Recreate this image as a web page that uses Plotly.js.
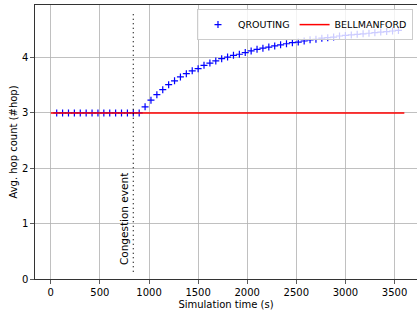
<!DOCTYPE html>
<html>
<head>
<meta charset="utf-8">
<script src="https://cdn.plot.ly/plotly-3.0.1.min.js"></script>
<style>html,body{margin:0;padding:0;background:#fff;}#chart{width:417px;height:311px;}</style>
</head>
<body>
<div id="chart"></div>
<script>
// QROUTING samples (simulation time in s, avg hop count)
const qTime = [60,120,180,240,300,360,420,480,540,600,660,720,780,840,900,
  960,1020,1080,1140,1200,1260,1320,1380,1440,1500,1560,1620,1680,1740,1800,
  1860,1920,1980,2040,2100,2160,2220,2280,2340,2400,2460,2520,2580,2640,2700,
  2760,2820,2880,2940,3000,3060,3120,3180,3240,3300,3360,3420,3480,3540];
const qHops = [3,3,3,3,3,3,3,3,3,3,3,3,3,3,3,
  3.11,3.23,3.33,3.42,3.51,3.58,3.65,3.71,3.76,3.80,3.86,3.90,3.94,3.98,4.01,
  4.04,4.06,4.09,4.12,4.15,4.17,4.19,4.21,4.23,4.25,4.27,4.28,4.30,4.32,4.33,
  4.35,4.36,4.37,4.39,4.40,4.41,4.42,4.43,4.44,4.45,4.46,4.47,4.48,4.49];
// BELLMANFORD reference line
const bTime = [0, 3600];
const bHops = [3, 3];
// congestion event
const eventTime = 840;
const eventLabel = "Congestion event";
const xTicks = [0,500,1000,1500,2000,2500,3000,3500];
const yTicks = [0,1,2,3,4];

const font = {family: "DejaVu Sans", size: 10, color: "#000"};
const traces = [
  {x: qTime, y: qHops, name: "QROUTING", mode: "markers", type: "scatter",
   marker: {symbol: "cross-thin", size: 5, color: "#0000ff", line: {color: "#0000ff", width: 1.2}}},
  {x: bTime, y: bHops, name: "BELLMANFORD", mode: "lines", type: "scatter",
   line: {color: "#ff0000", width: 1.5}}
];
const layout = {
  width: 417, height: 311,
  margin: {l: 35, r: 0, t: 5, b: 32},
  paper_bgcolor: "#fff", plot_bgcolor: "#fff",
  font: font,
  showlegend: true,
  legend: {orientation: "h", x: 0.9895, xanchor: "right", y: 0.985, yanchor: "top",
    bgcolor: "rgba(255,255,255,0.8)", bordercolor: "#cccccc", borderwidth: 1,
    font: {family: "DejaVu Sans", size: 9.5, color: "#000"}, itemwidth: 30, tracegroupgap: 0},
  xaxis: {range: [-161, 3729], tickvals: xTicks, ticktext: xTicks.map(String),
    showgrid: true, gridcolor: "#b0b0b0", gridwidth: 0.8, zeroline: false,
    showline: true, linecolor: "#333", linewidth: 1.2, mirror: true,
    ticks: "outside", ticklen: 3.5, tickwidth: 0.8, tickcolor: "#333",
    title: {text: "Simulation time (s)", font: font, standoff: 4}},
  yaxis: {range: [0, 4.95], tickvals: yTicks, ticktext: yTicks.map(String),
    showgrid: true, gridcolor: "#b0b0b0", gridwidth: 0.8, zeroline: false,
    showline: true, linecolor: "#333", linewidth: 1.2,
    ticks: "outside", ticklen: 3.5, tickwidth: 0.8, tickcolor: "#333",
    title: {text: "Avg. hop count (#hop)", font: font, standoff: 2}},
  shapes: [{type: "line", xref: "x", yref: "y", x0: eventTime, x1: eventTime, y0: 0.13, y1: 4.82,
    line: {color: "#000", width: 1.2, dash: "1px,3.5px"}}],
  annotations: [{x: eventTime, y: 0.22, xref: "x", yref: "y", text: eventLabel, textangle: -90,
    showarrow: false, xanchor: "right", yanchor: "bottom", xshift: -1,
    font: {family: "DejaVu Sans", size: 10.5, color: "#000"}}]
};
Plotly.newPlot("chart", traces, layout, {staticPlot: true, displayModeBar: false});
</script>
</body>
</html>
